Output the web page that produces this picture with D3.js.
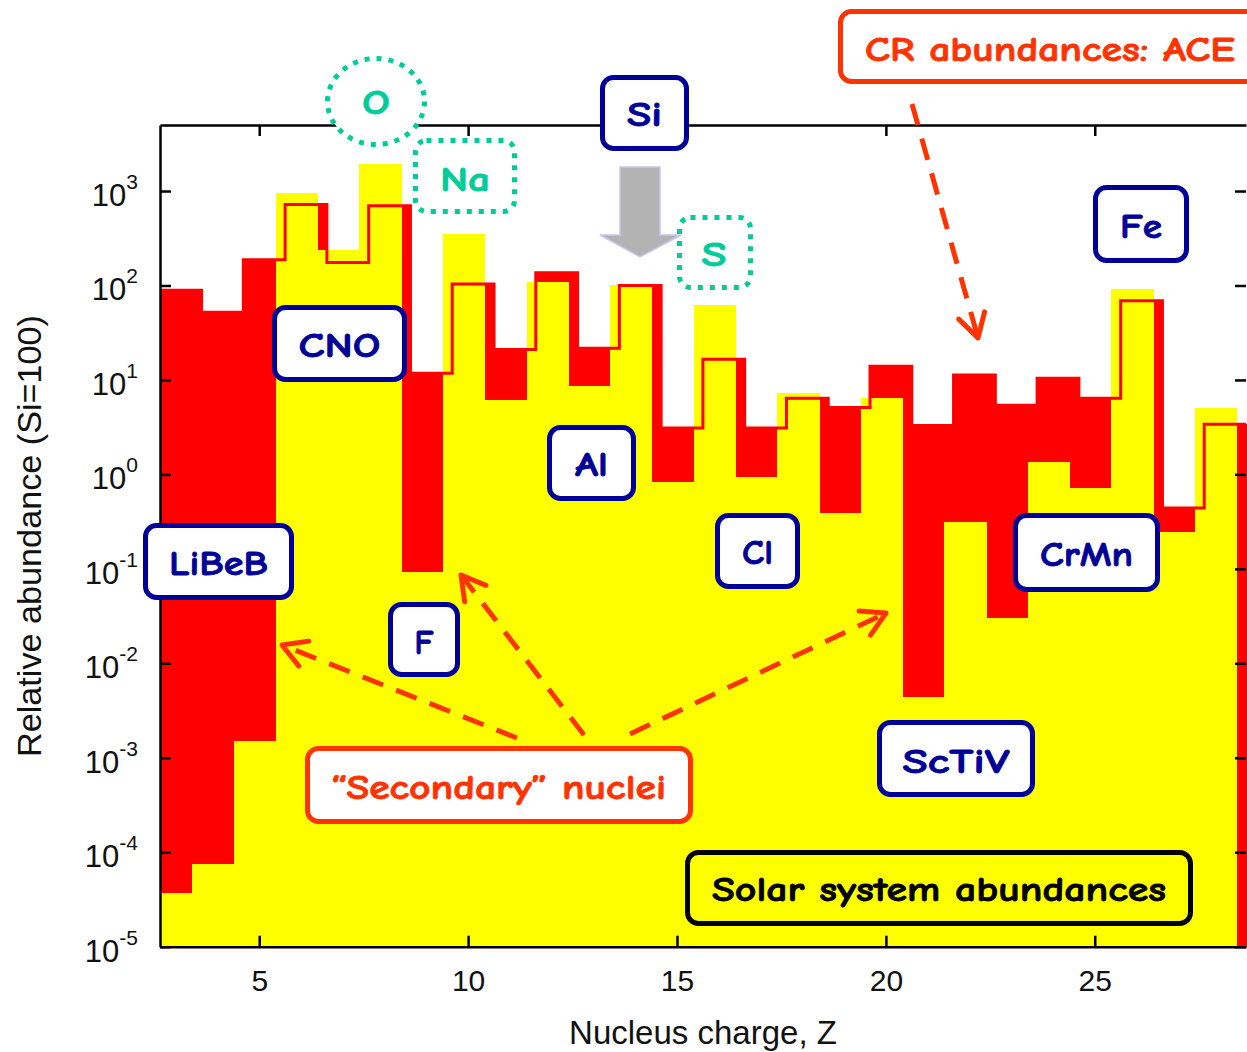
<!DOCTYPE html>
<html>
<head>
<meta charset="utf-8">
<script src="https://cdn.jsdelivr.net/npm/d3@7"></script>
<style>
body { margin: 0; background: #fff; }
svg { display: block; }
</style>
</head>
<body>
<div id="chart"></div>
<script>
// nuclei, Z = 3 (Li) ... 28 (Ni)
var elements = ["Li","Be","B","C","N","O","F","Ne","Na","Mg","Al","Si","P","S","Cl","Ar","K","Ca","Sc","Ti","V","Cr","Mn","Fe","Co","Ni"];
var charges  = [3,4,5,6,7,8,9,10,11,12,13,14,15,16,17,18,19,20,21,22,23,24,25,26,27,28];

// cosmic ray abundances (ACE), Si = 100
var crAce = [89, 52, 187, 720, 175, 700, 11.8, 104, 21, 136, 21.6, 100, 3.1, 16.6, 3.1, 6.4,
             5.1, 14, 3.3, 11.3, 5.4, 10.4, 6.4, 69, 0.44, 3.4];
// solar system abundances, Si = 100
var solar = [3.7e-5, 7.5e-5, 1.5e-3, 955, 240, 1950, 0.093, 348, 6.2, 108, 8.6, 100, 0.83, 62, 0.93, 7.3,
             0.39, 6.5, 0.0044, 0.31, 0.03, 1.36, 0.71, 91, 0.245, 5.1];

var xTicks = [5, 10, 15, 20, 25];
var yTicks = [1e-5, 1e-4, 1e-3, 1e-2, 1e-1, 1, 10, 100, 1000];

var margin = {top: 125, left: 160},
    width = 1086,
    height = 821.7;

// the two histograms are drawn slightly shifted from each other
var crShift = 0.12, solarShift = -0.1;

var x = d3.scaleLinear().domain([2.625, 28.62]).range([0, width]);
var y = d3.scaleLog().domain([1e-5, 5000]).range([height, 0]);

var axisFont = "'Liberation Sans', Arial, Helvetica, sans-serif";
var annoFont = "'Comic Sans MS', 'Comic Neue', 'DejaVu Sans', sans-serif";

var svg = d3.select("#chart").append("svg")
    .attr("width", 1247)
    .attr("height", 1052);

var g = svg.append("g")
    .attr("transform", "translate(" + margin.left + "," + margin.top + ")");

g.append("clipPath").attr("id", "plotclip")
  .append("rect").attr("width", width + 2).attr("height", height);

var plot = g.append("g").attr("clip-path", "url(#plotclip)");

var data = charges.map(function(z, i) {
  return {z: z, el: elements[i], cr: crAce[i], solar: solar[i]};
});

// red filled histogram (CR)
plot.selectAll("rect.cr")
    .data(data)
    .enter().append("rect")
    .attr("class", "cr")
    .attr("x", function(d) { return x(d.z - 0.5 + crShift); })
    .attr("width", function(d) { return x(d.z + 0.5 + crShift) - x(d.z - 0.5 + crShift) + 0.5; })
    .attr("y", function(d) { return y(d.cr); })
    .attr("height", function(d) { return height - y(d.cr); })
    .attr("fill", "#ff0000")
    .attr("shape-rendering", "crispEdges");

// yellow filled histogram (solar)
plot.selectAll("rect.solar")
    .data(data)
    .enter().append("rect")
    .attr("class", "solar")
    .attr("x", function(d) { return x(d.z - 0.5 + solarShift); })
    .attr("width", function(d) { return x(d.z + 0.5 + solarShift) - x(d.z - 0.5 + solarShift) + 0.5; })
    .attr("y", function(d) { return y(d.solar); })
    .attr("height", function(d) { return height - y(d.solar); })
    .attr("fill", "#ffff00")
    .attr("shape-rendering", "crispEdges");

// red step outline on top of the yellow
var stepPts = data.map(function(d) { return [d.z - 0.5 + crShift, d.cr]; });
var last = data[data.length - 1];
stepPts.push([last.z + 0.5 + crShift, last.cr]);

var step = d3.line()
    .x(function(p) { return x(p[0]); })
    .y(function(p) { return y(p[1]); })
    .curve(d3.curveStepAfter);

plot.append("path")
    .attr("d", step(stepPts))
    .attr("fill", "none")
    .attr("stroke", "#ff0000")
    .attr("stroke-width", 3);

// axes: ticks pointing inward on all four sides
function styleAxis(sel) {
  sel.select(".domain").attr("stroke", "#000").attr("stroke-width", 2.5);
  sel.selectAll(".tick line").attr("stroke", "#000").attr("stroke-width", 2.5);
}

g.append("g")
    .call(d3.axisLeft(y).tickValues(yTicks).tickSize(-11).tickSizeOuter(0).tickFormat(""))
    .call(styleAxis);
var rightAxis = g.append("g")
    .attr("transform", "translate(" + width + ",0)")
    .call(d3.axisRight(y).tickValues(yTicks).tickSize(-11).tickSizeOuter(0).tickFormat(""))
    .call(styleAxis);
rightAxis.select(".domain").remove();
g.append("g")
    .call(d3.axisTop(x).tickValues(xTicks).tickSize(-11).tickSizeOuter(0).tickFormat(""))
    .call(styleAxis);

var xAxis = g.append("g")
    .attr("transform", "translate(0," + height + ")")
    .call(d3.axisBottom(x).tickValues(xTicks).tickSize(-11).tickSizeOuter(0).tickPadding(23).tickFormat(d3.format("d")))
    .call(styleAxis);
xAxis.selectAll(".tick text")
    .attr("font-family", axisFont)
    .attr("font-size", 30)
    .attr("fill", "#111");

// y tick labels as 10^n
var yLab = g.selectAll("text.ylab")
    .data(yTicks)
    .enter().append("text")
    .attr("class", "ylab")
    .attr("x", -22)
    .attr("y", function(d) { return y(d) + 15; })
    .attr("text-anchor", "end")
    .attr("font-family", axisFont)
    .attr("fill", "#111");
yLab.append("tspan").attr("font-size", 31).text("10");
yLab.append("tspan")
    .attr("font-size", 21)
    .attr("dy", -17)
    .text(function(d) { return String(Math.round(Math.log10(d))); });

// axis titles
svg.append("text")
    .attr("x", 703)
    .attr("y", 1044)
    .attr("text-anchor", "middle")
    .attr("font-family", axisFont)
    .attr("font-size", 33)
    .attr("fill", "#111")
    .text("Nucleus charge, Z");

svg.append("text")
    .attr("transform", "translate(41,536) rotate(-90)")
    .attr("text-anchor", "middle")
    .attr("font-family", axisFont)
    .attr("font-size", 34)
    .attr("fill", "#111")
    .attr("textLength", 442)
    .attr("lengthAdjust", "spacingAndGlyphs")
    .text("Relative abundance (Si=100)");

// ---- annotations ----
var navy = "#000099", teal = "#00cc99", orange = "#ff3300";

function box(b, stroke, fill, sw, dash) {
  var r = svg.append("rect")
      .attr("x", b[0] + sw / 2).attr("y", b[1] + sw / 2)
      .attr("width", b[2] - b[0] - sw).attr("height", b[3] - b[1] - sw)
      .attr("rx", 11).attr("ry", 11)
      .attr("fill", fill)
      .attr("stroke", stroke)
      .attr("stroke-width", sw);
  if (dash) r.attr("stroke-dasharray", dash);
}

function label(t, cx, by, len, color, size) {
  svg.append("text")
      .attr("x", cx).attr("y", by)
      .attr("text-anchor", "middle")
      .attr("font-family", annoFont)
      .attr("font-weight", "bold")
      .attr("font-size", size || 34)
      .attr("fill", color)
      .attr("stroke", color)
      .attr("stroke-width", 0.8)
      .attr("textLength", len)
      .attr("lengthAdjust", "spacingAndGlyphs")
      .text(t);
}

function arrow(x0, y0, x1, y1) {
  svg.append("line")
      .attr("x1", x0).attr("y1", y0).attr("x2", x1).attr("y2", y1)
      .attr("stroke", orange).attr("stroke-width", 5)
      .attr("stroke-dasharray", "22,14");
  var a = Math.atan2(y0 - y1, x0 - x1), L = 27, s = 0.52;
  svg.append("path")
      .attr("d", "M" + (x1 + L * Math.cos(a + s)) + "," + (y1 + L * Math.sin(a + s)) +
                 "L" + x1 + "," + y1 +
                 "L" + (x1 + L * Math.cos(a - s)) + "," + (y1 + L * Math.sin(a - s)))
      .attr("fill", "none")
      .attr("stroke", orange).attr("stroke-width", 5)
      .attr("stroke-linecap", "round").attr("stroke-linejoin", "round");
}

// navy element boxes
var navyBoxes = [
  {t: "Si",    b: [600, 75, 689, 151],   by: 126, len: 35},
  {t: "Fe",    b: [1093, 185, 1189, 263], by: 238, len: 42},
  {t: "CNO",   b: [272, 305, 407, 382],  by: 357, len: 82},
  {t: "Al",    b: [547, 425, 636, 501],  by: 476, len: 33},
  {t: "LiBeB", b: [143, 523, 294, 600],  by: 575, len: 99},
  {t: "Cl",    b: [715, 513, 800, 589],  by: 564, len: 31},
  {t: "F",     b: [388, 602, 460, 677],  by: 654, len: 19},
  {t: "CrMn",  b: [1013, 513, 1160, 592], by: 566, len: 93},
  {t: "ScTiV", b: [877, 720, 1035, 797], by: 773, len: 107}
];
navyBoxes.forEach(function(n) {
  box(n.b, navy, "#fff", 5);
  label(n.t, (n.b[0] + n.b[2]) / 2, n.by, n.len, navy);
});

// teal dotted highlights
box([413, 138, 517, 214], teal, "#fff", 5, "5,7");
label("Na", 465, 191, 50, teal);
box([677, 215, 753, 290], teal, "#fff", 5, "5,7");
label("S", 714, 266, 25, teal);
svg.append("ellipse")
    .attr("cx", 376).attr("cy", 101.5).attr("rx", 48.5).attr("ry", 43)
    .attr("fill", "#fff")
    .attr("stroke", teal).attr("stroke-width", 5)
    .attr("stroke-dasharray", "5,7");
label("O", 376, 114, 28, teal);

// grey arrow under Si
svg.append("polygon")
    .attr("points", "620,167 660,167 660,235 681,235 640,257 600,235 620,235")
    .attr("fill", "#b3b3b3")
    .attr("stroke", "#c8c8f0").attr("stroke-width", 1.5);

// CR abundances label + arrow
box([838, 9, 1262, 84], orange, "#fff", 5);
label("CR abundances: ACE", 1050, 61, 370, orange, 35);
arrow(912, 104, 978, 338);

// secondary nuclei label + arrows
arrow(517, 738, 282, 645);
arrow(584, 735, 461, 575);
arrow(630, 734, 886, 613);
box([305, 746, 693, 824], orange, "#fff", 5);
label("\u201cSecondary\u201d nuclei", 498.5, 799, 335, orange);

// solar system label
box([685, 850, 1193, 926], "#000", "#ffff00", 5);
label("Solar system abundances", 939, 901, 454, "#000");
</script>
</body>
</html>
